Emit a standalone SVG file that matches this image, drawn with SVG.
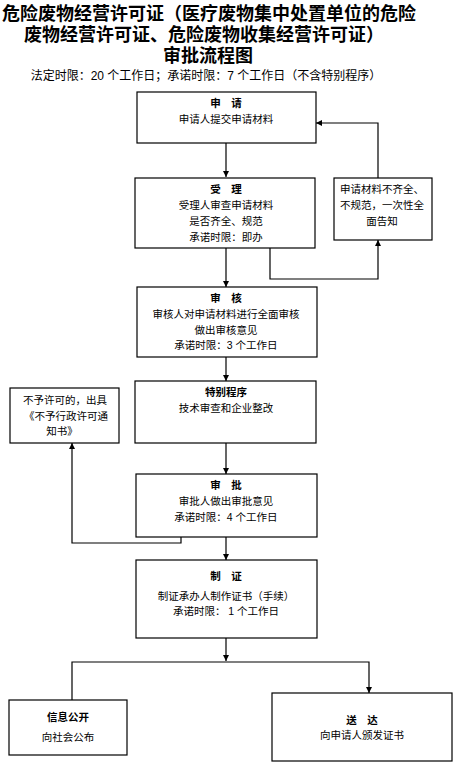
<svg xmlns="http://www.w3.org/2000/svg" width="458" height="770" viewBox="0 0 458 770">
<style>
text{font-family:"Liberation Sans","Noto Sans CJK SC",sans-serif;fill:#000}
.h{font-size:18px;font-weight:bold}
.s{font-size:12px}
.t{font-size:10.5px;font-weight:bold;text-anchor:middle}
.b{font-size:10.5px;text-anchor:middle}
rect{fill:#fff;stroke:#000;stroke-width:1.2}
.c path{fill:none;stroke:#000;stroke-width:1.2}
</style>
<defs>
<marker id="a" viewBox="0 0 10 10" refX="10" refY="5" markerWidth="6" markerHeight="6" markerUnits="userSpaceOnUse" orient="auto"><path d="M0,0L10,5L0,10z" fill="#000"/></marker>
</defs>
<rect x="0" y="0" width="458" height="770" style="stroke:none"/>
<g id="title">
<text class="h" x="2" y="20">危险废物经营许可证（医疗废物集中处置单位的危险</text>
<text class="h" x="204" y="41" text-anchor="middle">废物经营许可证、危险废物收集经营许可证）</text>
<text class="h" x="208" y="62" text-anchor="middle">审批流程图</text>
<text class="s" x="206" y="80" text-anchor="middle">法定时限：20 个工作日；承诺时限：7 个工作日（不含特别程序）</text>
</g>
<g class="c" id="connectors">
<path d="M226,143V177" marker-end="url(#a)"/>
<path d="M226,248V287" marker-end="url(#a)"/>
<path d="M270,248V279H378V240" marker-end="url(#a)"/>
<path d="M378,178V123H316" marker-end="url(#a)"/>
<path d="M226,357V381" marker-end="url(#a)"/>
<path d="M226,443V474" marker-end="url(#a)"/>
<path d="M181,537V543H72V443" marker-end="url(#a)"/>
<path d="M226,537V560" marker-end="url(#a)"/>
<path d="M226,638V661" marker-end="url(#a)"/>
<path d="M72,700V662H369V693" marker-end="url(#a)"/>
</g>
<g id="n1"><rect x="137" y="92" width="179" height="51"/>
<text class="t" x="226" y="107">申　请</text>
<text class="b" x="226" y="123">申请人提交申请材料</text></g>
<g id="n2"><rect x="135" y="178" width="180" height="70"/>
<text class="t" x="226" y="193">受　理</text>
<text class="b" x="226" y="209">受理人审查申请材料</text>
<text class="b" x="226" y="225">是否齐全、规范</text>
<text class="b" x="226" y="241">承诺时限：即办</text></g>
<g id="n3"><rect x="334" y="178" width="98" height="62"/>
<text class="b" x="382" y="193">申请材料不齐全、</text>
<text class="b" x="382" y="209">不规范，一次性全</text>
<text class="b" x="382" y="225">面告知</text></g>
<g id="n4"><rect x="137" y="287" width="180" height="70"/>
<text class="t" x="226" y="302">审　核</text>
<text class="b" x="226" y="318">审核人对申请材料进行全面审核</text>
<text class="b" x="226" y="334">做出审核意见</text>
<text class="b" x="226" y="349">承诺时限：3 个工作日</text></g>
<g id="n5"><rect x="135" y="381" width="181" height="62"/>
<text class="t" x="226" y="396">特别程序</text>
<text class="b" x="226" y="412">技术审查和企业整改</text></g>
<g id="n6"><rect x="10" y="388" width="109" height="55"/>
<text class="b" x="65" y="404">不予许可的，出具</text>
<text class="b" x="66" y="420">《不予行政许可通</text>
<text class="b" x="62" y="435">知书》</text></g>
<g id="n7"><rect x="136" y="474" width="181" height="63"/>
<text class="t" x="226" y="489">审　批</text>
<text class="b" x="226" y="505">审批人做出审批意见</text>
<text class="b" x="226" y="521">承诺时限：4 个工作日</text></g>
<g id="n8"><rect x="136" y="560" width="181" height="78"/>
<text class="t" x="226" y="580">制　证</text>
<text class="b" x="226" y="600">制证承办人制作证书（手续）</text>
<text class="b" x="226" y="615">承诺时限： 1 个工作日</text></g>
<g id="n9"><rect x="9" y="700" width="118" height="55"/>
<text class="t" x="68" y="721">信息公开</text>
<text class="b" x="68" y="741">向社会公布</text></g>
<g id="n10"><rect x="272" y="693" width="180" height="68"/>
<text class="t" x="362" y="724">送　达</text>
<text class="b" x="362" y="739">向申请人颁发证书</text></g>
</svg>
